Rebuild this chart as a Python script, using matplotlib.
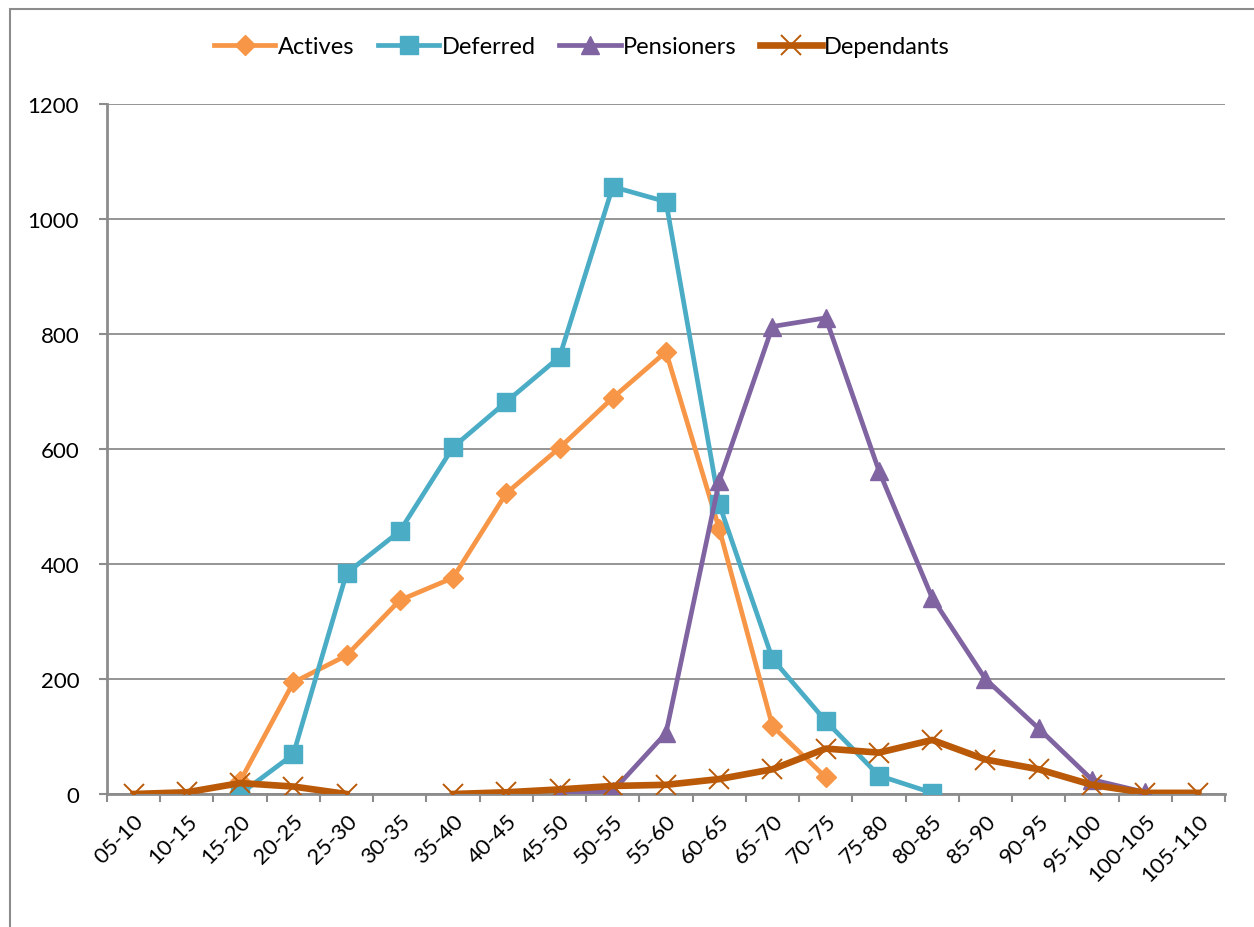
import numpy as np
import matplotlib
matplotlib.use("Agg")
import matplotlib.pyplot as plt
from matplotlib.patches import Rectangle

plt.rcParams['font.family'] = ['Lato', 'DejaVu Sans']

age_bands = ["05-10", "10-15", "15-20", "20-25", "25-30", "30-35", "35-40",
             "40-45", "45-50", "50-55", "55-60", "60-65", "65-70", "70-75",
             "75-80", "80-85", "85-90", "90-95", "95-100", "100-105", "105-110"]

nan = np.nan
actives = [nan, nan, 22, 194, 241, 337, 376, 523, 602, 689, 769, 461, 118, 29,
           nan, nan, nan, nan, nan, nan, nan]
deferred = [nan, nan, 0, 69, 384, 457, 603, 682, 760, 1056, 1030, 504, 235, 127,
            32, 2, nan, nan, nan, nan, nan]
pensioners = [nan, nan, nan, nan, nan, nan, nan, nan, 0, 5, 106, 544, 813, 828,
              562, 341, 200, 114, 25, 3, nan]
dependants = [0, 3, 19, 13, 0, nan, 0, 3, 8, 14, 16, 26, 43, 79, 72, 94, 60, 43,
              16, 2, 2]

c_act = "#F79646"
c_def = "#4BACC6"
c_pen = "#8064A2"
c_dep = "#BA5A08"
grid_c = "#8C8C8C"

fig = plt.figure(figsize=(12.54, 9.28), dpi=100)
ax = fig.add_axes([0.0853, 0.1433, 0.9769 - 0.0853, 0.8869 - 0.1433])

x = np.arange(len(age_bands))
ax.plot(x, actives, color=c_act, lw=3.4, marker='D', ms=10, mfc=c_act, mec=c_act,
        label="Actives", zorder=3)
ax.plot(x, deferred, color=c_def, lw=3.4, marker='s', ms=13.5, mfc=c_def, mec=c_def,
        label="Deferred", zorder=3)
ax.plot(x, pensioners, color=c_pen, lw=3.4, marker='^', ms=13, mfc=c_pen, mec=c_pen,
        label="Pensioners", zorder=3)
ax.plot(x, dependants, color=c_dep, lw=4.8, marker='x', ms=14, mew=1.4,
        mfc=c_dep, mec=c_dep, label="Dependants", zorder=4)

ax.set_xlim(-0.5, len(age_bands) - 0.5)
ax.set_ylim(0, 1200)
ax.set_yticks(np.arange(0, 1201, 200))
ax.set_yticklabels([str(v) for v in range(0, 1201, 200)], fontsize=16)

ax.set_xticks(x)
ax.set_xticklabels(age_bands, rotation=45, ha='right', rotation_mode='anchor',
                   fontsize=16)
ax.set_xticks(np.arange(-0.5, len(age_bands)), minor=True)
ax.tick_params(axis='x', which='major', length=0, pad=12)
ax.tick_params(axis='x', which='minor', length=6, width=1.5, color=grid_c,
               direction='out')
ax.tick_params(axis='y', length=6, width=1.5, color=grid_c, direction='out', pad=14)

ax.yaxis.grid(True, color=grid_c, lw=1.3)
ax.set_axisbelow(True)
for s in ['top', 'right']:
    ax.spines[s].set_visible(False)
for s in ['left', 'bottom']:
    ax.spines[s].set_color(grid_c)
    ax.spines[s].set_linewidth(2)

leg = fig.legend(loc='center', bbox_to_anchor=(0.464, 0.949), ncol=4,
                 frameon=False, fontsize=17, handlelength=2.6,
                 columnspacing=1.0, handletextpad=0.1)

# outer chart frame
fig.add_artist(Rectangle((10 / 1254, -0.1), 1.2, 1 - 10 / 928 + 0.1,
                         transform=fig.transFigure, fill=False,
                         edgecolor="#8C8C8C", lw=1.5))

fig.savefig("out.png", dpi=100)
